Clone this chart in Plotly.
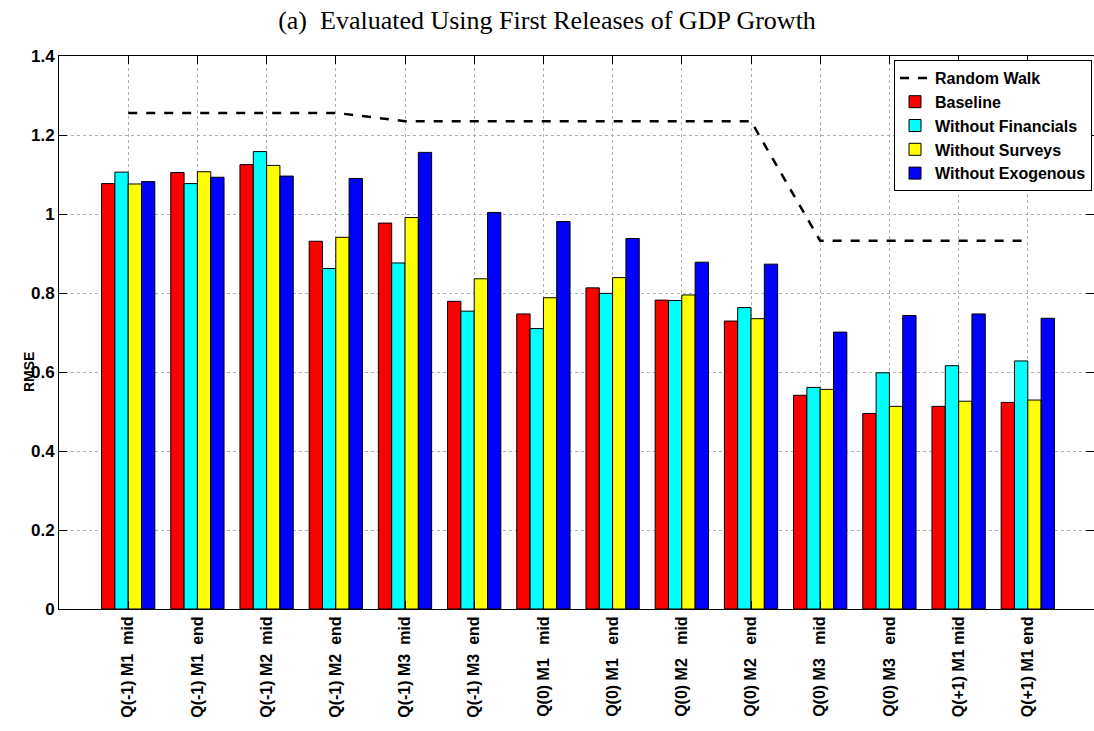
import plotly.graph_objects as go

categories = ["Q(-1) M1  mid", "Q(-1) M1  end", "Q(-1) M2  mid", "Q(-1) M2  end",
              "Q(-1) M3  mid", "Q(-1) M3  end", "Q(0) M1   mid", "Q(0) M1   end",
              "Q(0) M2   mid", "Q(0) M2   end", "Q(0) M3   mid", "Q(0) M3   end",
              "Q(+1) M1 mid", "Q(+1) M1 end"]
labels = [c.replace(" ", "\u00a0") for c in categories]

random_walk = [1.256, 1.256, 1.256, 1.256, 1.235, 1.235, 1.235, 1.235, 1.235, 1.235,
               0.932, 0.932, 0.932, 0.932]
baseline = [1.077, 1.105, 1.125, 0.931, 0.977, 0.779, 0.747, 0.813, 0.782, 0.729,
            0.541, 0.495, 0.513, 0.523]
without_financials = [1.106, 1.077, 1.158, 0.862, 0.876, 0.754, 0.710, 0.799, 0.781, 0.763,
                      0.561, 0.598, 0.616, 0.628]
without_surveys = [1.076, 1.107, 1.123, 0.941, 0.991, 0.836, 0.788, 0.839, 0.795, 0.735,
                   0.556, 0.513, 0.526, 0.529]
without_exogenous = [1.082, 1.093, 1.096, 1.090, 1.156, 1.004, 0.981, 0.938, 0.878, 0.873,
                     0.701, 0.743, 0.747, 0.736]

series = [("Baseline", baseline, "#FF0000"),
          ("Without Financials", without_financials, "#00FFFF"),
          ("Without Surveys", without_surveys, "#FFFF00"),
          ("Without Exogenous", without_exogenous, "#0000FF")]

SANS = "Liberation Sans, Arial, sans-serif"

fig = go.Figure()
fig.add_trace(go.Scatter(x=labels, y=random_walk, mode="lines", name="Random Walk",
                         line=dict(color="black", width=2.5, dash="dash")))
for name, vals, col in series:
    fig.add_trace(go.Bar(x=labels, y=vals, name=name, marker=dict(color=col,
                         line=dict(color="black", width=1))))

W, H = 1094, 731
L, T, B, R = 59, 56, 122, 0
PW, PH = W - L - R, H - T - B
fig.update_layout(
    width=W, height=H,
    margin=dict(l=L, r=R, t=T, b=B, autoexpand=False),
    paper_bgcolor="white", plot_bgcolor="white",
    barmode="group", bargap=0.23, bargroupgap=0,
    font=dict(family=SANS, size=16, color="black", weight="bold"),
    title=dict(text="(a)\u00a0\u00a0Evaluated Using First Releases of GDP Growth",
               font=dict(family="Liberation Serif, Times New Roman, serif", size=26,
                         color="black", weight="normal"),
               x=547 / W, xref="container", xanchor="center", y=1 - 20 / H, yanchor="middle"),
    legend=dict(x=1 - 2 / PW, xanchor="right", y=1 - 4 / PH, yanchor="top",
                bgcolor="white", bordercolor="black", borderwidth=1,
                font=dict(size=16, family=SANS, color="black", weight="bold"),
                tracegroupgap=0, itemwidth=30),
    showlegend=True,
)
fig.update_xaxes(range=[-1, -1 + PW / 69.2], showline=True, linecolor="black", linewidth=1,
                 mirror="ticks", ticks="inside", ticklen=8, tickcolor="black",
                 showgrid=True, gridcolor="#b0b0b0", griddash="dot", gridwidth=1,
                 automargin=False, tickangle=-90,
                 tickfont=dict(size=16, family=SANS, weight="bold"))
fig.update_yaxes(range=[0, 1.4], dtick=0.2, showline=True, linecolor="black", linewidth=1,
                 mirror="ticks", ticks="inside", ticklen=8, tickcolor="black",
                 showgrid=True, gridcolor="#b0b0b0", griddash="dot", gridwidth=1,
                 automargin=False, zeroline=False,
                 tickfont=dict(size=17, family=SANS, weight="bold"))
fig.add_annotation(text="RMSE", textangle=-90, xref="paper", yref="paper",
                   x=(29 - L) / PW, y=(609 - 372) / PH, showarrow=False,
                   xanchor="center", yanchor="middle",
                   font=dict(size=14, family=SANS, color="black", weight="bold"))
fig.write_html("out.html", config={"displayModeBar": False},
               post_script="document.body.style.margin='0';document.body.style.overflow='hidden';")
